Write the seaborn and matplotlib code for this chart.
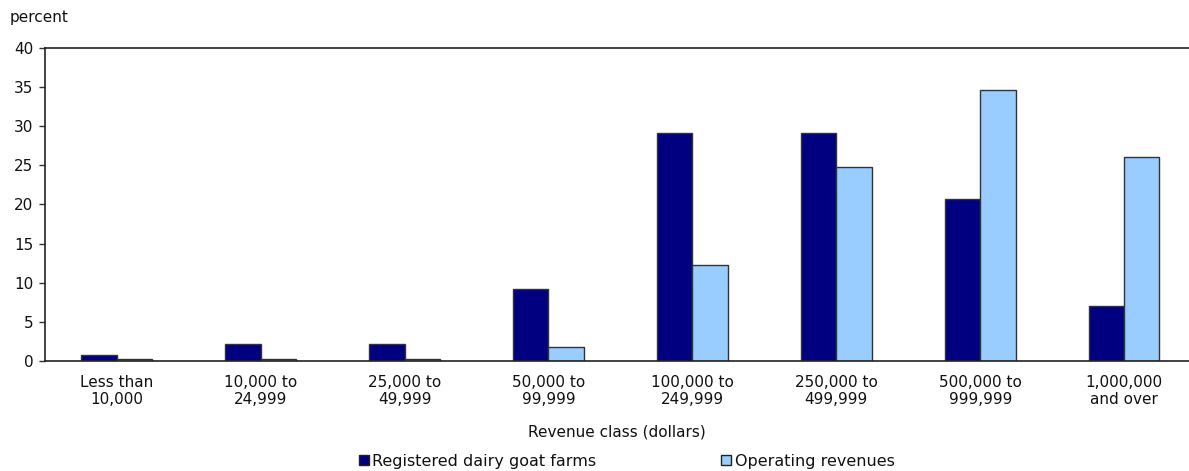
import pandas as pd
import matplotlib.pyplot as plt
import seaborn as sns
from matplotlib.patches import Patch

# Revenue classes and shares (percent)
classes = ['Less than\n10,000', '10,000 to\n24,999', '25,000 to\n49,999', '50,000 to\n99,999',
           '100,000 to\n249,999', '250,000 to\n499,999', '500,000 to\n999,999', '1,000,000\nand over']
farms = [0.8, 2.2, 2.2, 9.2, 29.1, 29.1, 20.7, 7.0]
revenues = [0.2, 0.2, 0.2, 1.8, 12.3, 24.8, 34.6, 26.0]
series = ['Registered dairy goat farms', 'Operating revenues']
colors = ['#000080', '#99CCFF']

df = pd.DataFrame({
    'cls': classes * 2,
    'value': farms + revenues,
    'series': [series[0]] * len(classes) + [series[1]] * len(classes),
})

sns.set_style('white')
plt.rcParams['font.family'] = ['DejaVu Sans']
plt.rcParams['font.size'] = 11
plt.rcParams['text.color'] = '#111111'
plt.rcParams['xtick.color'] = '#111111'
plt.rcParams['ytick.color'] = '#111111'
plt.rcParams['axes.labelcolor'] = '#111111'

fig = plt.figure(figsize=(11.89, 4.71), dpi=100)
ax = fig.add_axes([0.0376, 0.2335, 0.9624, 0.6652])

sns.barplot(data=df, x='cls', y='value', hue='series', palette=colors, width=0.49,
            saturation=1, edgecolor='#333333', linewidth=1, ax=ax, legend=False)

ax.set_xlim(-0.5, 7.45)
ax.set_ylim(0, 40)
ax.set_yticks(range(0, 41, 5))
ax.tick_params(axis='y', left=True, length=4, width=1, color='#333333', pad=4, labelsize=11)
ax.tick_params(axis='x', bottom=False, pad=6.5, labelsize=11)
for side in ['left', 'bottom', 'top']:
    ax.spines[side].set_visible(True)
    ax.spines[side].set_color('#222222')
    ax.spines[side].set_linewidth(1.2)
ax.spines['right'].set_visible(False)

ax.set_xlabel('Revenue class (dollars)', labelpad=12.5, fontsize=11)
ax.set_ylabel('')
fig.text(0.008, 0.962, 'percent', ha='left', va='center', fontsize=11)

handles = [Patch(facecolor=c, edgecolor='#222222', linewidth=1) for c in colors]
fig.legend(handles, series, loc='center', bbox_to_anchor=(0.527, 0.021), ncol=2,
           frameon=False, handlelength=0.65, handleheight=0.65, handletextpad=0.2,
           columnspacing=7.8, borderaxespad=0, fontsize=11.5)

fig.savefig('out.png', dpi=100)
